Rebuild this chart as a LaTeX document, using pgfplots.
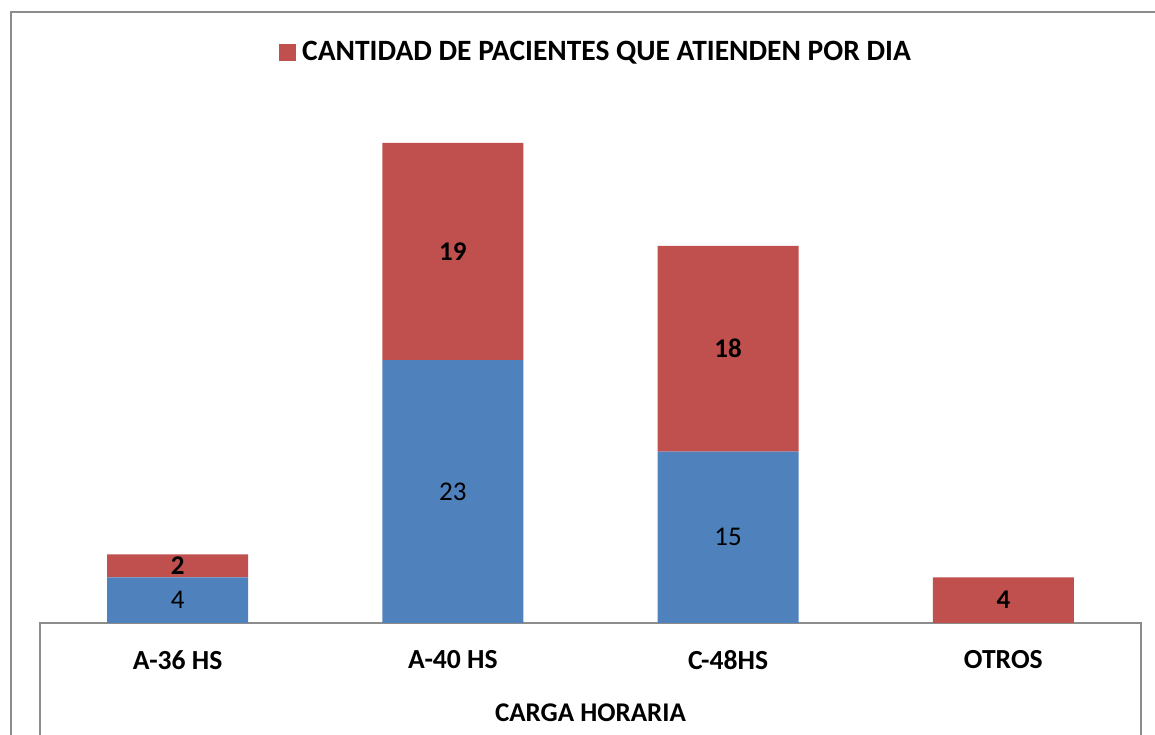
\documentclass[border=0pt]{standalone}
\usepackage{pgfplots}
\pgfplotsset{compat=1.18}
\usepackage{fontspec}
\setmainfont{Carlito}
\definecolor{cblue}{HTML}{4F81BD}
\definecolor{cred}{HTML}{C0504D}
\definecolor{frame}{HTML}{8C8C8C}
\pgfplotsset{
  base/.style={
    scale only axis, width=1101pt, height=514.35pt,
    xmin=-0.5, xmax=3.5, ymin=0, ymax=45,
    axis line style={draw=none},
    xtick={0,1,2,3}, ytick=\empty,
    major tick length=0pt,
    clip=false,
  },
}
\newcommand{\bigfont}{\fontsize{27}{32}\selectfont}
\newcommand{\tickfont}{\fontsize{27.6}{32}\selectfont}
\newcommand{\legfont}{\fontsize{29.5}{34}\selectfont}
\begin{document}
\begin{tikzpicture}
\useasboundingbox (0,0) rectangle (1155pt,735pt);
\draw[frame, line width=2pt] (11pt,0pt) -- (11pt,723pt) -- (1155pt,723pt);
\begin{axis}[base,
  at={(40pt,112pt)}, anchor=south west,
  ybar stacked, bar width=141pt,
  xticklabels={A-36 HS, A-40 HS, C-48HS, OTROS},
  xticklabel style={font=\tickfont\bfseries, anchor=center, yshift=-37pt},
  xlabel={CARGA HORARIA},
  every axis x label/.style={at={(axis description cs:0.5,0)}, anchor=center, yshift=-90pt, font=\bigfont\bfseries},
  legend style={draw=none, fill=none, at={(axis description cs:0.2171,1.11)}, anchor=west, inner sep=0pt, font=\legfont\bfseries},
  legend image code/.code={\fill[cred] (0pt,-8.5pt) rectangle (17pt,8.5pt); \path (21pt,0pt);},
]
\addplot[fill=cblue, draw=none, forget plot] coordinates {(0,4) (1,23) (2,15) (3,0)};
\addplot[fill=cred, draw=none] coordinates {(0,2) (1,19) (2,18) (3,4)};
\legend{CANTIDAD DE PACIENTES QUE ATIENDEN POR DIA}
\draw[frame, line width=2pt] (rel axis cs:0,0) ++(0pt,-125pt) -- (rel axis cs:0,0) -- (rel axis cs:1,0) -- ++(0pt,-125pt);
\end{axis}
\begin{axis}[base, at={(40pt,112pt)}, anchor=south west, xticklabels={}]
\addplot[only marks, mark=none, nodes near coords, point meta=explicit symbolic,
  every node near coord/.append style={anchor=center, font=\bigfont}]
  table[meta=label] {
x y label
0 2 4
1 11.5 23
2 7.5 15
};
\addplot[only marks, mark=none, nodes near coords, point meta=explicit symbolic,
  every node near coord/.append style={anchor=center, font=\bigfont\bfseries}]
  table[meta=label] {
x y label
0 5 2
1 32.5 19
2 24 18
3 2 4
};
\end{axis}
\end{tikzpicture}
\end{document}
